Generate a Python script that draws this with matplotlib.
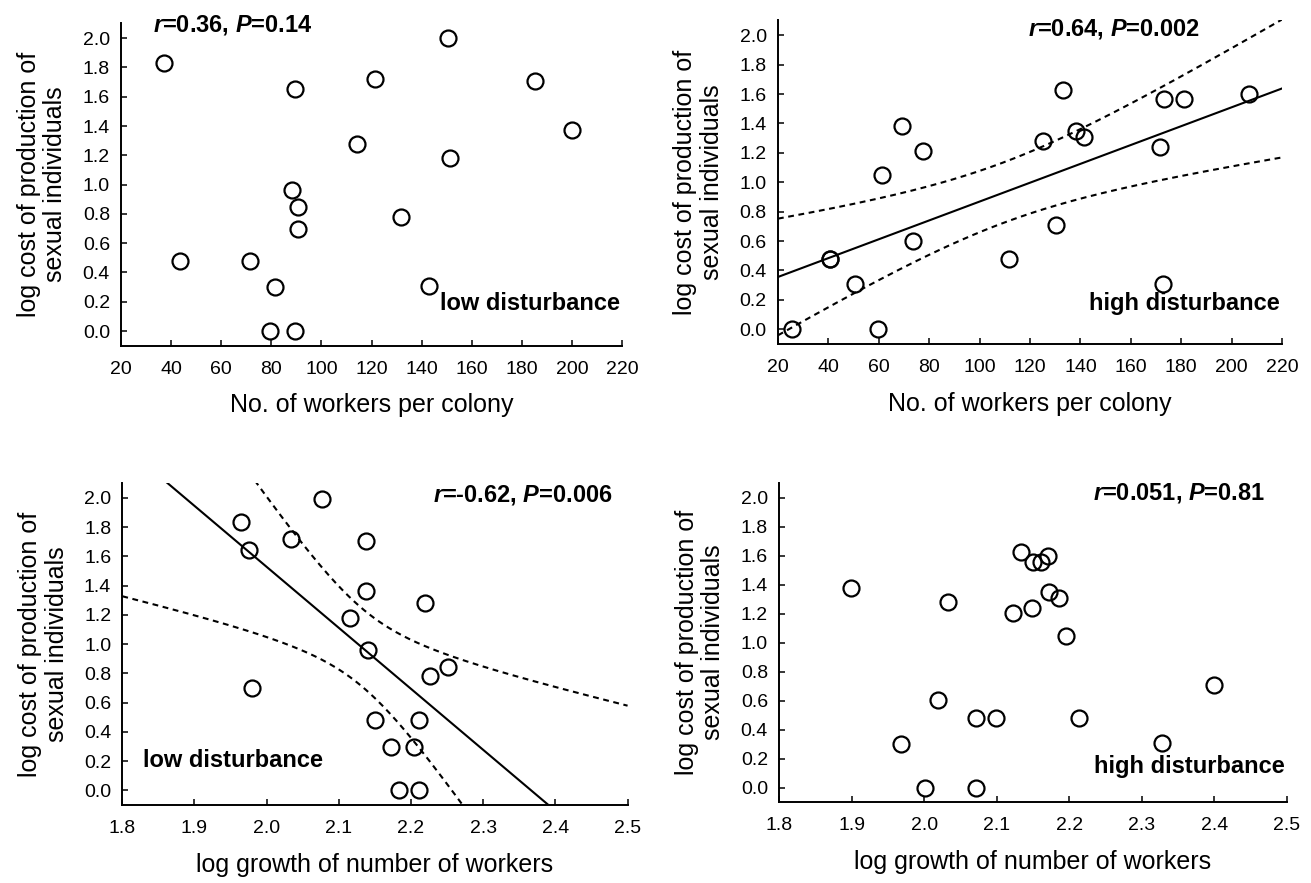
import numpy as np
import matplotlib
matplotlib.use('Agg')
import matplotlib.pyplot as plt
from matplotlib.ticker import FormatStrFormatter

plt.rcParams['font.family'] = ['Liberation Sans', 'DejaVu Sans']
plt.rcParams['mathtext.fontset'] = 'custom'
plt.rcParams['mathtext.it'] = 'Liberation Sans:italic:bold'
plt.rcParams['mathtext.rm'] = 'Liberation Sans:bold'

# === DATA ===
# top-left: low disturbance, colony size
low_workers = [37.1, 43.5, 71.5, 81.6, 79.6, 89.6, 88.3, 90.5, 90.5, 89.3,
               114.3, 121.5, 131.6, 142.8, 150.5, 151.5, 185.4, 200.2]
low_cost_a = [1.83, 0.48, 0.48, 0.30, 0.0, 0.0, 0.96, 0.85, 0.70, 1.65,
              1.28, 1.72, 0.78, 0.31, 2.0, 1.18, 1.71, 1.37]

# top-right: high disturbance, colony size (two colonies overlap near 40)
high_workers = [25.5, 40.6, 40.6, 50.4, 59.6, 61.3, 69.3, 73.5, 77.6, 111.6,
                125.3, 130.3, 133.1, 138.3, 141.3, 171.5, 173.2, 172.7, 181.2,
                206.8]
high_cost_a = [0.0, 0.48, 0.48, 0.31, 0.0, 1.05, 1.38, 0.60, 1.21, 0.48,
               1.28, 0.71, 1.63, 1.35, 1.31, 1.24, 1.565, 0.31, 1.565, 1.60]

# bottom-left: low disturbance, log growth of workers
low_growth = [1.965, 1.975, 1.979, 2.034, 2.076, 2.115, 2.137, 2.137, 2.141,
              2.150, 2.172, 2.183, 2.204, 2.211, 2.211, 2.220, 2.226, 2.251]
low_cost_b = [1.836, 1.642, 0.699, 1.720, 1.993, 1.180, 1.704, 1.362, 0.957,
              0.478, 0.298, 0.0, 0.298, 0.478, 0.0, 1.278, 0.781, 0.845]

# bottom-right: high disturbance, log growth of workers
high_growth = [1.8995, 1.968, 2.001, 2.019, 2.033, 2.071, 2.072, 2.0985, 2.123,
               2.133, 2.148, 2.150, 2.161, 2.171, 2.172, 2.186, 2.196, 2.214,
               2.328, 2.400]
high_cost_b = [1.376, 0.302, 0.0, 0.602, 1.278, 0.479, 0.0, 0.479, 1.203,
               1.625, 1.237, 1.557, 1.553, 1.594, 1.346, 1.305, 1.042, 0.479,
               0.309, 0.704]

stats_text = [r'$\it{r}$=0.36, $\it{P}$=0.14', r'$\it{r}$=0.64, $\it{P}$=0.002',
              r'$\it{r}$=-0.62, $\it{P}$=0.006', r'$\it{r}$=0.051, $\it{P}$=0.81']
group_text = ['low disturbance', 'high disturbance', 'low disturbance', 'high disturbance']
xlabels = ['No. of workers per colony', 'No. of workers per colony',
           'log growth of number of workers', 'log growth of number of workers']
ylabel = 'log cost of production of\nsexual individuals'

# two-sided 95% t values by degrees of freedom
T_CRIT = {16: 2.120, 17: 2.110, 18: 2.101}

# === LAYOUT ===
rects = [[0.0923, 0.6085, 0.3822, 0.3649],
         [0.5934, 0.6104, 0.3845, 0.3664],
         [0.0933, 0.0883, 0.3854, 0.3645],
         [0.5942, 0.0917, 0.3875, 0.3613]]
stats_pos = [(0.063, 0.995, 'left'), (0.496, 0.973, 'left'),
             (0.971, 0.963, 'right'), (0.956, 0.968, 'right')]
group_pos = [(0.996, 0.132, 'right'), (0.995, 0.126, 'right'),
             (0.040, 0.138, 'left'), (0.996, 0.111, 'right')]

panels = [(low_workers, low_cost_a, False),
          (high_workers, high_cost_a, True),
          (low_growth, low_cost_b, True),
          (high_growth, high_cost_b, False)]

fig = plt.figure(figsize=(13.11, 8.83), dpi=100)

for i, (xs, ys, fit) in enumerate(panels):
    ax = fig.add_axes(rects[i])
    xs = np.array(xs)
    ys = np.array(ys)

    if i < 2:
        xlim = (20, 220)
        xticks = np.arange(20, 221, 20)
    else:
        xlim = (1.8, 2.5)
        xticks = np.round(np.arange(1.8, 2.51, 0.1), 1)

    if fit:
        # least squares line with 95% confidence band for the mean
        n = len(xs)
        slope, intercept = np.polyfit(xs, ys, 1)
        resid = ys - (slope * xs + intercept)
        s = np.sqrt(np.sum(resid ** 2) / (n - 2))
        sxx = np.sum((xs - xs.mean()) ** 2)
        xx = np.linspace(xlim[0], xlim[1], 300)
        yy = slope * xx + intercept
        hw = T_CRIT[n - 2] * s * np.sqrt(1.0 / n + (xx - xs.mean()) ** 2 / sxx)
        ax.plot(xx, yy, color='black', lw=1.5, zorder=2)
        ax.plot(xx, yy + hw, color='black', lw=1.5, dashes=(2.8, 2.2), zorder=2)
        ax.plot(xx, yy - hw, color='black', lw=1.5, dashes=(2.8, 2.2), zorder=2)

    ax.plot(xs, ys, 'o', ms=11.5, mfc='none', mec='black', mew=1.6, zorder=3,
            clip_on=False)

    ax.set_xlim(*xlim)
    ax.set_ylim(-0.1, 2.1)
    ax.set_xticks(xticks)
    ax.set_yticks(np.round(np.arange(0, 2.01, 0.2), 1))
    ax.yaxis.set_major_formatter(FormatStrFormatter('%.1f'))
    if i >= 2:
        ax.xaxis.set_major_formatter(FormatStrFormatter('%.1f'))

    for side in ['top', 'right']:
        ax.spines[side].set_visible(False)
    for side in ['left', 'bottom']:
        ax.spines[side].set_linewidth(1.4)
    ax.tick_params(direction='in', length=4, width=1.1, labelsize=14)
    ax.tick_params(axis='x', pad=11)
    ax.tick_params(axis='y', pad=8)

    ax.set_xlabel(xlabels[i], fontsize=18, labelpad=11)
    ax.set_ylabel(ylabel, fontsize=18, labelpad=11, linespacing=1.15)

    sx, sy, sha = stats_pos[i]
    ax.text(sx, sy, stats_text[i], transform=ax.transAxes, ha=sha, va='center',
            fontsize=17, fontweight='bold')
    gx, gy, gha = group_pos[i]
    ax.text(gx, gy, group_text[i], transform=ax.transAxes, ha=gha, va='center',
            fontsize=17, fontweight='bold')

plt.savefig('out.png', dpi=100)
plt.close()
